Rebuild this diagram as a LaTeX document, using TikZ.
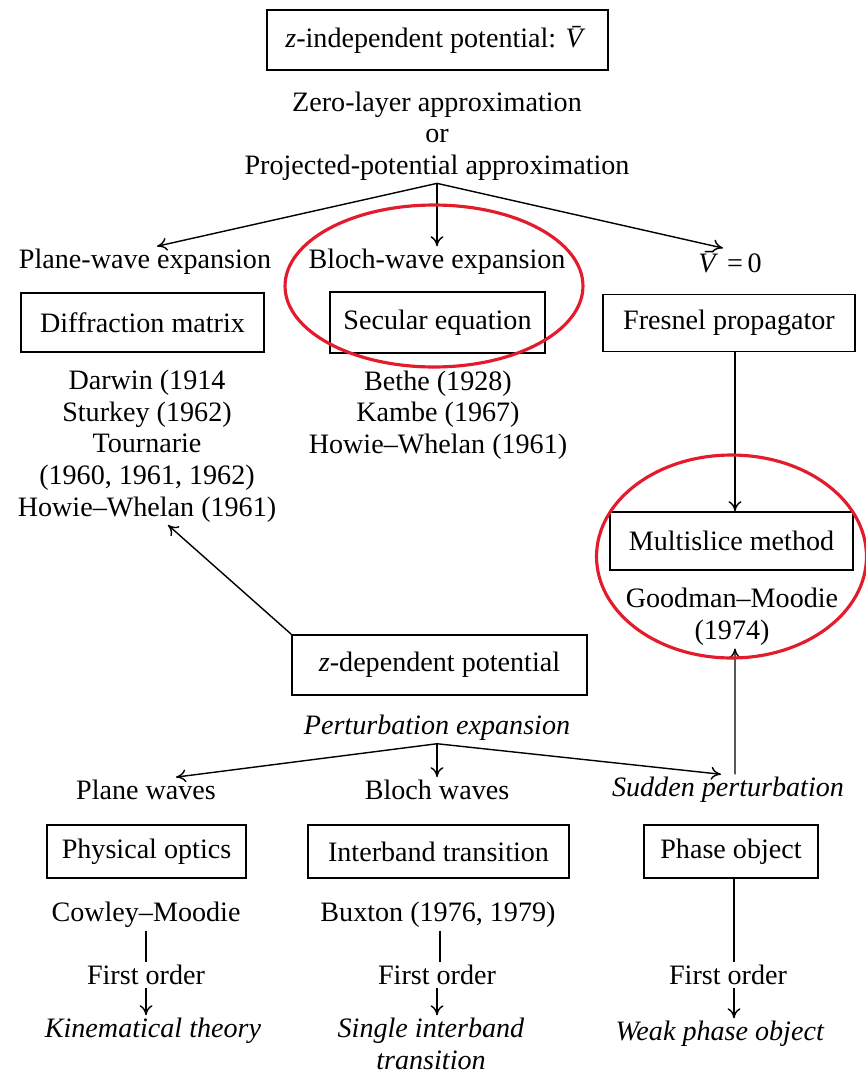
\documentclass[tikz,border=0pt]{standalone}
\usepackage{fontspec}
\setmainfont{Liberation Serif}
\usepackage{amsmath}
\usepackage{xcolor}
\usepackage{tikz}
\usetikzlibrary{arrows.meta}

\definecolor{ringred}{RGB}{226,28,44}

\begin{document}
\begin{tikzpicture}[x=0.02cm, y=-0.02cm,
    font=\fontsize{16}{18}\selectfont,
    >={To[length=2mm,width=2.6mm]},
    box/.style={draw, rectangle, line width=0.9pt, inner sep=0pt},
    txt/.style={align=center, inner sep=1.5pt},
    link/.style={line width=0.8pt},
    ring/.style={draw=ringred, line width=1.8pt}]
    \useasboundingbox (0,0) rectangle (866,1076);

    % Nodes
    \node [box, minimum width=6.82cm, minimum height=1.2cm] (zind) at (437.5,40) {\textit{z}-independent potential: \textit{\=V}};
    \node [txt] (approx) at (437,136) {Zero-layer approximation\\or\\Projected-potential approximation};

    \node [txt] (pwe) at (145,262) {Plane-wave expansion};
    \node [txt] (bwe) at (437,262) {Bloch-wave expansion};
    \node [txt] (vzero) at (730,262) {\textit{\=V}\,=\,0};

    \node [box, minimum width=4.86cm, minimum height=1.18cm] (diff) at (142.5,322.5) {Diffraction matrix};
    \node [box, minimum width=4.3cm, minimum height=1.22cm] (sec) at (437.5,322.5) {Secular equation};
    \node [box, minimum width=5.04cm, minimum height=1.14cm] (fres) at (729,323) {Fresnel propagator};

    \node [txt] (darwin) at (147,446) {Darwin (1914\\Sturkey (1962)\\Tournarie\\(1960, 1961, 1962)\\Howie--Whelan (1961)};
    \node [txt] (bethe) at (438,415) {Bethe (1928)\\Kambe (1967)\\Howie--Whelan (1961)};

    \node [box, minimum width=4.86cm, minimum height=1.16cm] (multi) at (731.5,541) {Multislice method};
    \node [txt] (goodman) at (732,617) {Goodman--Moodie\\(1974)};

    \node [box, minimum width=5.9cm, minimum height=1.2cm] (zdep) at (439.5,665) {\textit{z}-dependent potential};
    \node [txt] (pert) at (437,728) {\textit{Perturbation expansion}};

    \node [txt] (pwaves) at (146,790) {Plane waves};
    \node [txt] (bwaves) at (437,790) {Bloch waves};
    \node [txt] (sudden) at (728,790) {\textit{Sudden perturbation}};

    \node [box, minimum width=3.98cm, minimum height=1.06cm] (phys) at (146.5,851.5) {Physical optics};
    \node [box, minimum width=5.22cm, minimum height=1.06cm] (inter) at (438.5,851.5) {Interband transition};
    \node [box, minimum width=3.48cm, minimum height=1.06cm] (phase) at (731,851.5) {Phase object};

    \node [txt] (cowley) at (146,915) {Cowley--Moodie};
    \node [txt] (buxton) at (438,915) {Buxton (1976, 1979)};

    \node [txt] (first1) at (146,975) {First order};
    \node [txt] (first2) at (437,975) {First order};
    \node [txt] (first3) at (728,975) {First order};

    \node [txt] (kin) at (153,1031) {\textit{Kinematical theory}};
    \node [txt] (single) at (431,1044) {\textit{Single interband}\\\textit{transition}};
    \node [txt] (weak) at (720,1034) {\textit{Weak phase object}};

    % Arrows
    \draw [link, ->] (approx.south) -- ([xshift=0.24cm]pwe.north);
    \draw [link, ->] (approx.south) -- (bwe.north);
    \draw [link, ->] (approx.south) -- ([xshift=-0.14cm]vzero.north);

    \draw [link, ->] (fres.south -| 735,0) -- (multi.north -| 735,0);
    \draw [link, ->] (zdep.north west) -- ([xshift=0.42cm]darwin.south);
    \draw [link, ->] ([xshift=0.14cm]sudden.north) -- ([xshift=0.06cm]goodman.south);

    \draw [link, ->] (pert.south) -- ([xshift=0.6cm]pwaves.north);
    \draw [link, ->] (pert.south) -- (bwaves.north);
    \draw [link, ->] (pert.south) -- ([xshift=-0.14cm]sudden.north);

    \draw [link] (cowley) -- (first1);
    \draw [link] (buxton.south -| 440,0) -- (first2.north -| 440,0);
    \draw [link] (phase.south -| 734,0) -- (first3.north -| 734,0);
    \draw [link, ->] (first1) -- (first1 |- kin.north);
    \draw [link, ->] (first2) -- (first2 |- single.north);
    \draw [link, ->] (first3.south -| 734,0) -- (weak.north -| 734,0);

    % Red rings
    \draw [ring] (434,286) ellipse [x radius=2.98cm, y radius=1.62cm];
    \draw [ring] (731.5,556.5) ellipse [x radius=2.7cm, y radius=2.03cm];
\end{tikzpicture}
\end{document}
